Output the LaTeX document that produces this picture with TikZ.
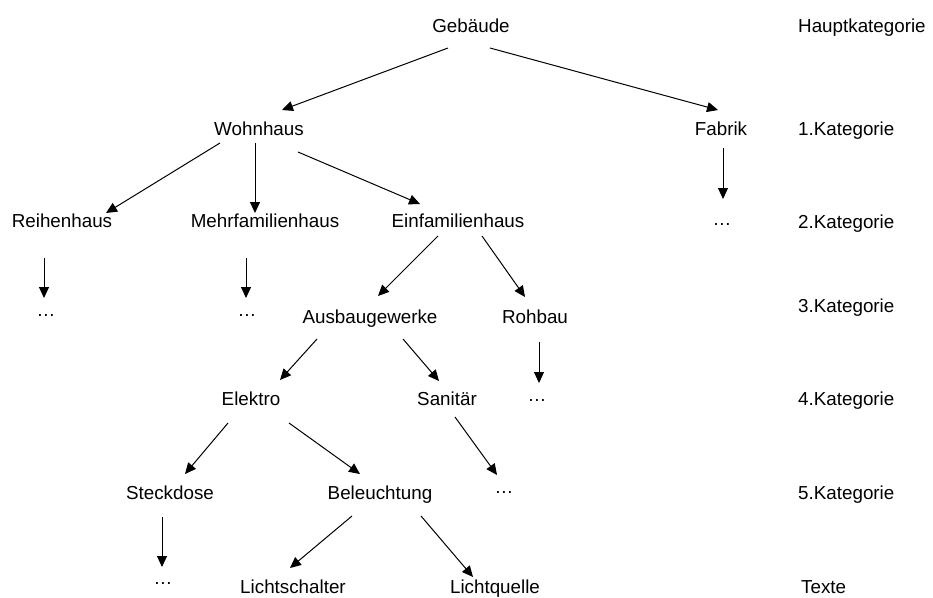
\documentclass[tikz,border=0pt]{standalone}
\usepackage{fontspec}
\setmainfont{Liberation Sans}
\usetikzlibrary{arrows.meta}
\begin{document}
\begin{tikzpicture}[x=1pt,y=-1pt,
  lbl/.style={inner sep=0pt,anchor=base,font=\fontsize{18.8}{22}\selectfont},
  lvl/.style={lbl,anchor=base west},
  arr/.style={line width=1pt,-{Triangle[length=11pt,width=10pt]}}]
\useasboundingbox (0,0) rectangle (933,597);

% tree nodes
\node[lbl] (geb)   at (471,32)  {Gebäude};
\node[lbl] (wohn)  at (259,135) {Wohnhaus};
\node[lbl] (fab)   at (721,135) {Fabrik};
\node[lbl] (reih)  at (62,227)  {Reihenhaus};
\node[lbl] (mehr)  at (265,227) {Mehrfamilienhaus};
\node[lbl] (einf)  at (458,227) {Einfamilienhaus};
\node[lbl] (fabd)  at (722,225) {…};
\node[lbl] (reihd) at (46,316)  {…};
\node[lbl] (mehrd) at (247,316) {…};
\node[lbl] (ausb)  at (370,323) {Ausbaugewerke};
\node[lbl] (rohb)  at (535,323) {Rohbau};
\node[lbl] (elek)  at (251,405) {Elektro};
\node[lbl] (sani)  at (447,405) {Sanitär};
\node[lbl] (rohbd) at (537,401) {…};
\node[lbl] (stec)  at (170,499) {Steckdose};
\node[lbl] (bel)   at (380,499) {Beleuchtung};
\node[lbl] (sanid) at (504,493) {…};
\node[lbl] (stecd) at (163,584) {…};
\node[lbl] (lsch)  at (293,593) {Lichtschalter};
\node[lbl] (lqu)   at (495,593) {Lichtquelle};

% level labels
\node[lvl] (l0) at (798,32)  {Hauptkategorie};
\node[lvl] (l1) at (798,135) {1.Kategorie};
\node[lvl] (l2) at (798,228) {2.Kategorie};
\node[lvl] (l3) at (798,312) {3.Kategorie};
\node[lvl] (l4) at (798,405) {4.Kategorie};
\node[lvl] (l5) at (798,499) {5.Kategorie};
\node[lvl] (l6) at (801,593) {Texte};

% connectors
\draw[arr] ([shift={(-23,16)}]geb.base)  -- ([shift={(23,-25)}]wohn.base);
\draw[arr] ([shift={(19,16)}]geb.base)   -- ([shift={(-3,-25)}]fab.base);
\draw[arr] ([shift={(-39,8)}]wohn.base)  -- ([shift={(44,-14)}]reih.base);
\draw[arr] ([shift={(-4,8)}]wohn.base)   -- ([shift={(-10,-14)}]mehr.base);
\draw[arr] ([shift={(39,17)}]wohn.base)  -- ([shift={(-38,-23)}]einf.base);
\draw[arr] ([shift={(2,13)}]fab.base)    -- ([shift={(1,-26)}]fabd.base);
\draw[arr] ([shift={(-18,31)}]reih.base) -- ([shift={(-2,-18)}]reihd.base);
\draw[arr] ([shift={(-19,31)}]mehr.base) -- ([shift={(-1,-18)}]mehrd.base);
\draw[arr] ([shift={(-20,9)}]einf.base)  -- ([shift={(8,-27)}]ausb.base);
\draw[arr] ([shift={(24,9)}]einf.base)   -- ([shift={(-10,-26)}]rohb.base);
\draw[arr] ([shift={(-53,16)}]ausb.base) -- ([shift={(29,-25)}]elek.base);
\draw[arr] ([shift={(33,16)}]ausb.base)  -- ([shift={(-8,-24)}]sani.base);
\draw[arr] ([shift={(4,19)}]rohb.base)   -- ([shift={(2,-18)}]rohbd.base);
\draw[arr] ([shift={(-23,18)}]elek.base) -- ([shift={(15,-25)}]stec.base);
\draw[arr] ([shift={(38,18)}]elek.base)  -- ([shift={(-20,-25)}]bel.base);
\draw[arr] ([shift={(8,12)}]sani.base)   -- ([shift={(-7,-18)}]sanid.base);
\draw[arr] ([shift={(-8,18)}]stec.base)  -- ([shift={(-1,-17)}]stecd.base);
\draw[arr] ([shift={(-28,17)}]bel.base)  -- ([shift={(-3,-25)}]lsch.base);
\draw[arr] ([shift={(41,17)}]bel.base)   -- ([shift={(-22,-16)}]lqu.base);
\end{tikzpicture}
\end{document}
